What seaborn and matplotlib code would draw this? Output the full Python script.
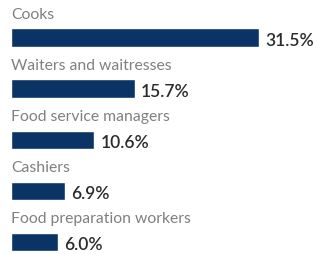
import matplotlib
matplotlib.use("Agg")
import matplotlib.pyplot as plt
import pandas as pd
import seaborn as sns

# Данные
occupations = [
    "Cooks",
    "Waiters and waitresses",
    "Food service managers",
    "Cashiers",
    "Food preparation workers",
]
shares = [31.5, 15.7, 10.6, 6.9, 6.0]
value_labels = ["31.5%", "15.7%", "10.6%", "6.9%", "6.0%"]

df = pd.DataFrame({"occupation": occupations, "share": shares})

sns.set_style("white")
plt.rcParams["font.family"] = ["Lato", "DejaVu Sans"]

fig = plt.figure(figsize=(3.18, 2.54), dpi=100)
ax = fig.add_axes([11 / 318, 0, 307 / 318, 1])

sns.barplot(
    data=df,
    y="occupation",
    x="share",
    orient="h",
    color="#0b3466",
    width=0.36,
    saturation=1,
    ax=ax,
)

ax.set_xlim(0, 307 / 7.87)
ax.set_ylim(4.235, -0.735)

for i, (name, lab, v) in enumerate(zip(occupations, value_labels, shares)):
    ax.text(0, i - 0.45, name, ha="left", va="center",
            fontsize=11.3, color="#808080")
    ax.text(v + 0.8, i + 0.06, lab, ha="left", va="center",
            fontsize=12.5, color="#2b2b2b", fontweight="semibold")

ax.set_xlabel("")
ax.set_ylabel("")
ax.set_xticks([])
ax.set_yticks([])
sns.despine(ax=ax, left=True, bottom=True)

fig.savefig("out.png", dpi=100, facecolor="white")
